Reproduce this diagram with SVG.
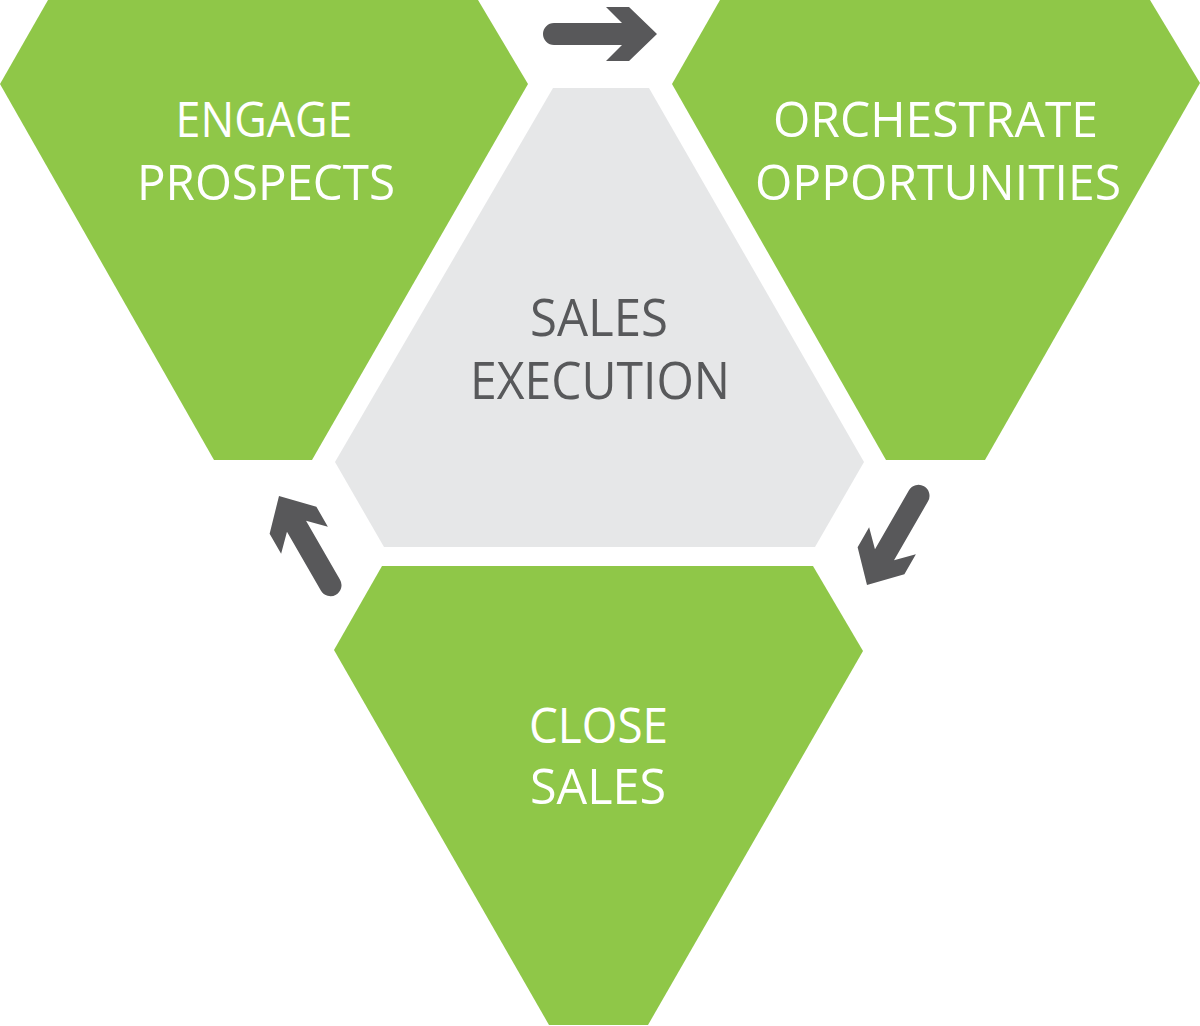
<svg xmlns="http://www.w3.org/2000/svg" width="1200" height="1026" viewBox="0 0 1200 1026">
<style>
.green{fill:#8fc748;}
.grey{fill:#e6e7e8;}
.arrow{fill:#58585a;}
.lbl{font-family:"Open Sans","Liberation Sans",sans-serif;text-anchor:middle;}
.w{fill:#ffffff;font-size:49px;}
.g{fill:#58595b;font-size:51px;}
</style>
<defs>
<path id="arr" d="M -103,-11 L -35,-11 L -51,-27 L -28,-27 L 0,0 L -28,27 L -51,27 L -35,11 L -103,11 A 11 11 0 0 1 -103,-11 Z"/>
</defs>
<rect width="1200" height="1026" fill="#ffffff"/>
<g id="engage">
<polygon class="green" points="48,0 478,0 528,84 312,460 214,460 0,84"/>
<text class="lbl w" x="264" y="137" textLength="177" lengthAdjust="spacingAndGlyphs">ENGAGE</text>
<text class="lbl w" x="266" y="200" textLength="258" lengthAdjust="spacingAndGlyphs">PROSPECTS</text>
</g>
<g id="orchestrate">
<polygon class="green" points="720,0 1150,0 1200,83 985,460 886,460 672,84"/>
<text class="lbl w" x="935.5" y="137" textLength="325" lengthAdjust="spacingAndGlyphs">ORCHESTRATE</text>
<text class="lbl w" x="938" y="200" textLength="366" lengthAdjust="spacingAndGlyphs">OPPORTUNITIES</text>
</g>
<g id="execution">
<polygon class="grey" points="553,88 649,88 864,462 815,547 384,547 335,462"/>
<text class="lbl g" x="599" y="336" textLength="138" lengthAdjust="spacingAndGlyphs">SALES</text>
<text class="lbl g" x="600" y="399" textLength="260" lengthAdjust="spacingAndGlyphs">EXECUTION</text>
</g>
<g id="close">
<polygon class="green" points="382,566 813,566 863,651 648,1025 549,1025 334,650"/>
<text class="lbl w" x="598.5" y="743" textLength="139" lengthAdjust="spacingAndGlyphs">CLOSE</text>
<text class="lbl w" x="598" y="804" textLength="136" lengthAdjust="spacingAndGlyphs">SALES</text>
</g>
<g id="connectors">
<use href="#arr" class="arrow" transform="translate(657,34)"/>
<use href="#arr" class="arrow" transform="translate(867,585) rotate(120)"/>
<use href="#arr" class="arrow" transform="translate(279,496) rotate(-120)"/>
</g>
</svg>
